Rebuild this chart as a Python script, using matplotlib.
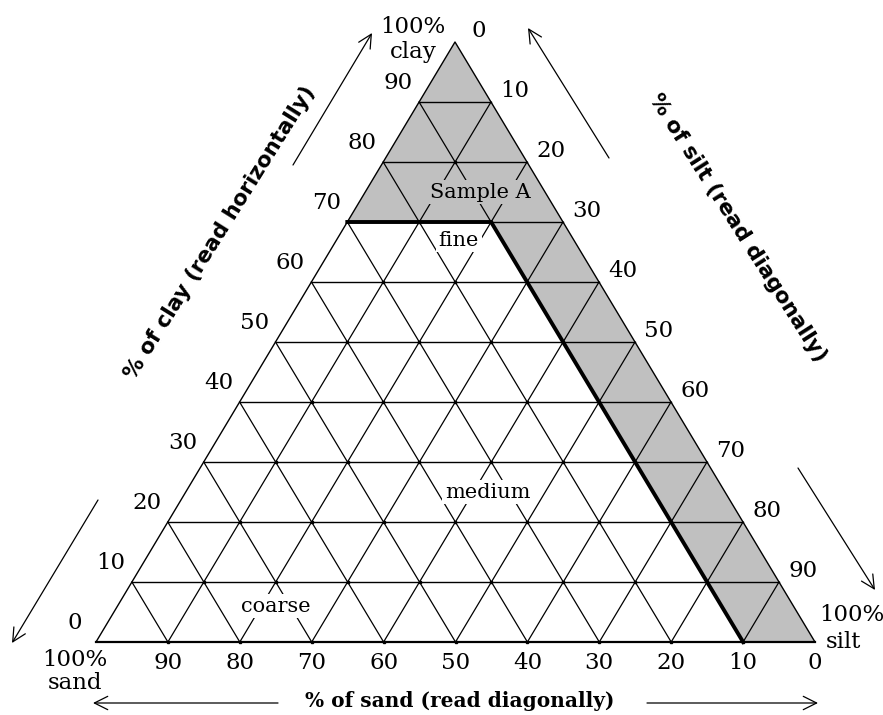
import numpy as np
import matplotlib.pyplot as plt

# ---- data ----
ticks = [0, 10, 20, 30, 40, 50, 60, 70, 80, 90]
grid_levels = [10, 20, 30, 40, 50, 60, 70, 80, 90]
clay_min_shaded = 70   # top region (clay >= 70) is shaded
sand_max_shaded = 10   # right strip (sand <= 10) is shaded

class_names = ["Sample A", "fine", "medium", "coarse"]
class_sand = [9, 16, 33, 72]
class_silt = [16, 17, 42, 22]
class_clay = [75, 67, 25, 6]
class_bg = ["#c0c0c0", "white", "white", "white"]

# ---- layout (pixel space) ----
W, H = 883, 715
BL = np.array([96.0, 642.0])   # 100% sand
BR = np.array([815.0, 642.0])  # 100% silt
TP = np.array([455.0, 42.0])   # 100% clay

GRAY = "#c0c0c0"
NUM_FONT = dict(family="DejaVu Serif", fontsize=16.5)
LBL_FONT = dict(family="DejaVu Serif", fontsize=15)


def tern(sand, silt, clay):
    """ternary (%) -> pixel position"""
    return (np.asarray(sand)[..., None] * BL + np.asarray(silt)[..., None] * BR
            + np.asarray(clay)[..., None] * TP) / 100.0


fig = plt.figure(figsize=(W / 100, H / 100), dpi=100)
ax = fig.add_axes([0, 0, 1, 1])
ax.set_xlim(0, W)
ax.set_ylim(H, 0)
ax.axis("off")

# shaded region
c0, s0 = clay_min_shaded, sand_max_shaded
poly = np.array([
    tern(0, 0, 100),
    tern(100 - c0, 0, c0),
    tern(s0, 100 - c0 - s0, c0),
    tern(s0, 100 - s0, 0),
    tern(0, 100, 0),
])
ax.fill(poly[:, 0], poly[:, 1], color=GRAY, zorder=1, lw=0)

# grid lines
for v in grid_levels:
    # constant clay (horizontal)
    p = tern([100 - v, 0], [0, 100 - v], [v, v])
    ax.plot(p[:, 0], p[:, 1], color="black", lw=1, zorder=2)
    # constant sand (parallel to right edge)
    p = tern([v, v], [100 - v, 0], [0, 100 - v])
    ax.plot(p[:, 0], p[:, 1], color="black", lw=0.9, zorder=2)
    # constant silt (parallel to left edge)
    p = tern([100 - v, 0], [v, v], [0, 100 - v])
    ax.plot(p[:, 0], p[:, 1], color="black", lw=0.9, zorder=2)

# grid nodes (interior crossings)
nodes = [(s, 100 - s - c, c) for c in grid_levels + [0] for s in grid_levels
         if 100 - s - c > 0]
nodes = np.array(nodes)
pn = tern(nodes[:, 0], nodes[:, 1], nodes[:, 2])
ax.plot(pn[:, 0], pn[:, 1], "s", color="black", ms=1.8, zorder=2)

# outline
outline = np.array([tern(100, 0, 0), tern(0, 100, 0), tern(0, 0, 100), tern(100, 0, 0)])
ax.plot(outline[:, 0], outline[:, 1], color="black", lw=1, zorder=3)
ax.plot(outline[:2, 0], outline[:2, 1], color="black", lw=1.6, zorder=3)

# thick boundary of the shaded area
thick = np.array([tern(100 - c0, 0, c0), tern(s0, 100 - c0 - s0, c0), tern(s0, 100 - s0, 0)])
ax.plot(thick[:, 0], thick[:, 1], color="black", lw=2.8, zorder=3,
        solid_joinstyle="miter")

# tick labels
for v in ticks:
    x, y = tern(100 - v, 0, v)
    ax.text(x - 21, y - 19, str(v), ha="center", va="center", **NUM_FONT)
    x, y = tern(0, v, 100 - v)
    ax.text(x + 24, y - 11, str(v), ha="center", va="center", **NUM_FONT)
for v in ticks:
    x, y = tern(v, 100 - v, 0)
    ax.text(x, y + 21, str(v), ha="center", va="center", **NUM_FONT)

# corner labels
x, y = TP
ax.text(x - 42, y - 15, "100%", ha="center", va="center", **NUM_FONT)
ax.text(x - 42, y + 10, "clay", ha="center", va="center", **NUM_FONT)
x, y = BR
ax.text(x + 37, y - 27, "100%", ha="center", va="center", **NUM_FONT)
ax.text(x + 28, y, "silt", ha="center", va="center", **NUM_FONT)
x, y = BL
ax.text(x - 21, y + 18, "100%", ha="center", va="center", **NUM_FONT)
ax.text(x - 21, y + 41, "sand", ha="center", va="center", **NUM_FONT)

# class labels
for name, s, si, c, bg in zip(class_names, class_sand, class_silt, class_clay, class_bg):
    x, y = tern(s, si, c)
    ax.text(x, y, name, ha="center", va="center", zorder=4,
            bbox=dict(facecolor=bg, edgecolor="none", pad=2), **LBL_FONT)

# axis titles
ax.text(220, 233, "% of clay (read horizontally)", rotation=58,
        ha="center", va="center", family="DejaVu Sans", fontweight="bold",
        fontsize=15.5, rotation_mode="anchor")
ax.text(738, 228, "% of silt (read diagonally)", rotation=-57.5,
        ha="center", va="center", family="DejaVu Sans", fontweight="bold",
        fontsize=15.5, rotation_mode="anchor")
ax.text(460, 701, "% of sand (read diagonally)", ha="center", va="center",
        family="DejaVu Serif", fontweight="bold", fontsize=14.5)

# direction arrows
arrows = [((293, 165), (372, 33)), ((609, 158), (528, 28)),
          ((98, 500), (12, 643)), ((798, 468), (875, 590)),
          ((278, 703), (93, 703)), ((647, 703), (818, 703))]
for tail, head in arrows:
    ax.annotate("", xy=head, xytext=tail,
                arrowprops=dict(arrowstyle="->", color="black", lw=0.9,
                                mutation_scale=24, shrinkA=0, shrinkB=0))

fig.savefig("out.png", dpi=100)
